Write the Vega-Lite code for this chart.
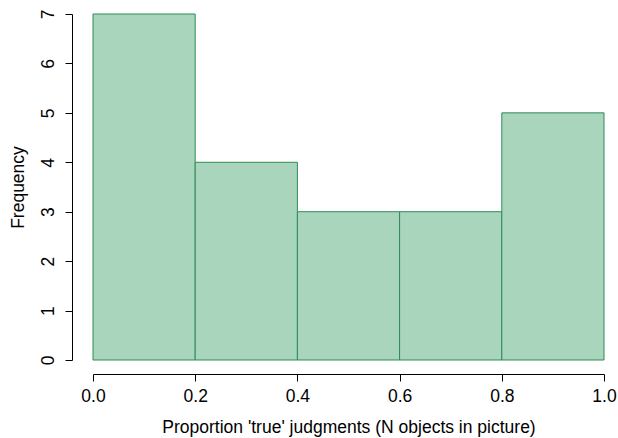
{
  "$schema": "https://vega.github.io/schema/vega-lite/v6.json",
  "width": 511,
  "height": 346,
  "autosize": "none",
  "padding": {"left": 93, "top": 14, "right": 14, "bottom": 78},
  "background": "white",
  "config": {
    "view": {"stroke": null},
    "font": "Liberation Sans",
    "axis": {
      "grid": false,
      "domainColor": "black",
      "tickColor": "black",
      "labelColor": "black",
      "titleColor": "black",
      "labelFont": "Liberation Sans",
      "titleFont": "Liberation Sans",
      "labelFontSize": 17.5,
      "titleFontSize": 17.5,
      "titleFontWeight": "normal",
      "tickSize": 7,
      "domainWidth": 1,
      "tickWidth": 1
    }
  },
  "data": {
    "values": [
      {"bin_start": 0.0, "bin_end": 0.2, "count": 7},
      {"bin_start": 0.2, "bin_end": 0.4, "count": 4},
      {"bin_start": 0.4, "bin_end": 0.6, "count": 3},
      {"bin_start": 0.6, "bin_end": 0.8, "count": 3},
      {"bin_start": 0.8, "bin_end": 1.0, "count": 5}
    ]
  },
  "mark": {"type": "rect", "fill": "#a9d5bd", "stroke": "#2e8b57", "strokeWidth": 1},
  "encoding": {
    "x": {
      "field": "bin_start",
      "type": "quantitative",
      "scale": {"domain": [0, 1], "nice": false, "zero": false},
      "axis": {
        "title": "Proportion 'true' judgments (N objects in picture)",
        "values": [0, 0.2, 0.4, 0.6, 0.8, 1.0],
        "format": ".1f",
        "offset": 14,
        "labelPadding": 6,
        "titlePadding": 14,
        "labelFlush": false
      }
    },
    "x2": {"field": "bin_end"},
    "y": {
      "field": "count",
      "type": "quantitative",
      "scale": {"domain": [0, 7], "nice": false},
      "axis": {
        "title": "Frequency",
        "values": [0, 1, 2, 3, 4, 5, 6, 7],
        "offset": 21,
        "labelAngle": 270,
        "labelAlign": "center",
        "labelBaseline": "bottom",
        "labelPadding": 8,
        "titlePadding": 12,
        "labelFlush": false
      }
    },
    "y2": {"datum": 0}
  }
}
